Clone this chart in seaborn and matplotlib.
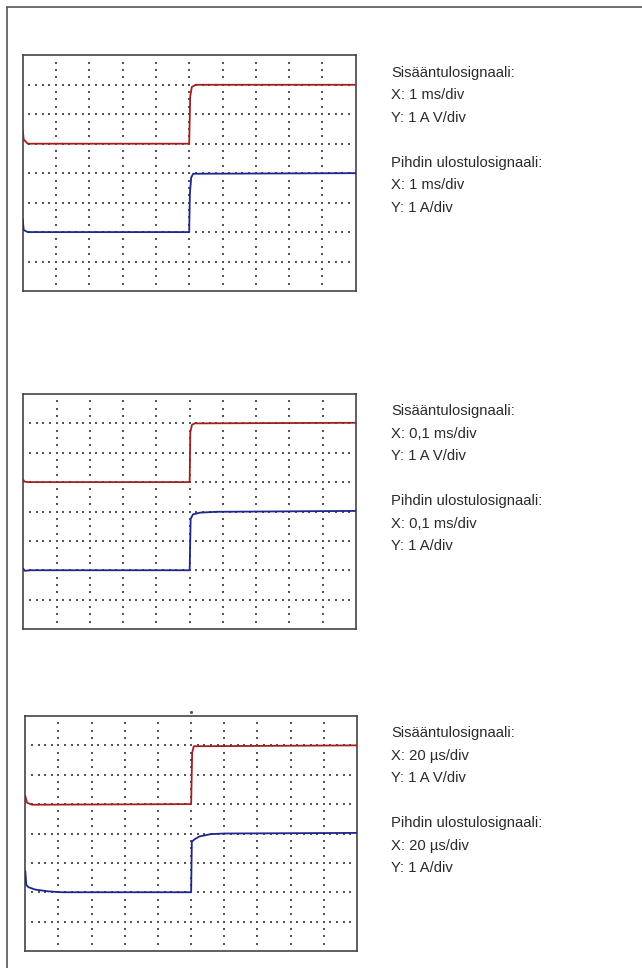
import numpy as np
import pandas as pd
import matplotlib
matplotlib.use("Agg")
import matplotlib.pyplot as plt
from matplotlib.lines import Line2D
import seaborn as sns

# ---------------- data (time in divisions, level in divisions) ----------------
p1_red_t = [0.0, 0.03, 0.15, 5.0, 5.03, 5.08, 5.2, 10.0]
p1_red_v = [5.48, 5.14, 5.0, 5.0, 6.6, 6.93, 7.0, 7.0]
p1_blue_t = [0.0, 0.03, 0.15, 5.0, 5.02, 5.06, 5.12, 10.0]
p1_blue_v = [2.44, 2.07, 2.0, 2.0, 3.3, 3.85, 3.98, 4.0]

p2_red_t = [0.0, 0.03, 0.15, 5.0, 5.02, 5.07, 5.15, 10.0]
p2_red_v = [5.08, 5.02, 5.0, 5.0, 6.7, 6.95, 7.0, 7.02]
p2_blue_t = [0.0, 0.05, 0.2, 5.0, 5.03, 5.1, 5.3, 5.8, 10.0]
p2_blue_v = [2.05, 1.98, 2.0, 2.0, 3.75, 3.9, 3.96, 3.99, 4.02]

p3_red_t = [0.0, 0.05, 0.2, 5.0, 5.03, 5.08, 10.0]
p3_red_v = [5.28, 5.05, 4.98, 5.0, 6.75, 6.97, 7.0]
p3_blue_t = [0.0, 0.03, 0.1, 0.3, 0.7, 1.1, 5.0, 5.02, 5.1, 5.25, 5.6, 6.0, 10.0]
p3_blue_v = [2.72, 2.25, 2.17, 2.09, 2.03, 2.0, 2.0, 3.72, 3.8, 3.9, 3.98, 4.0, 4.02]

in_label = "Sisääntulosignaali:"
out_label = "Pihdin ulostulosignaali:"
x_scales = ["1 ms/div", "0,1 ms/div", "20 µs/div"]
y_in = "1 A V/div"
y_out = "1 A/div"

panels = [
    (p1_red_t, p1_red_v, p1_blue_t, p1_blue_v),
    (p2_red_t, p2_red_v, p2_blue_t, p2_blue_v),
    (p3_red_t, p3_red_v, p3_blue_t, p3_blue_v),
]

# ---------------- layout (pixels) ----------------
W, H = 642, 968
boxes = [  # left, top, right, bottom
    (22.7, 55.3, 355.7, 291.0),
    (23.3, 394.0, 356.0, 629.0),
    (25.3, 716.0, 357.0, 951.0),
]

sns.set_theme(style="white")
plt.rcParams['font.family'] = ['Liberation Sans', 'DejaVu Sans']

fig = plt.figure(figsize=(W / 100, H / 100), dpi=100)
fig.patch.set_facecolor("white")

# outer frame (cropped on right and bottom)
fig.add_artist(Line2D([7.3 / W, 7.3 / W], [-0.01, 1 - 6.5 / H],
                      transform=fig.transFigure, color="#555555", lw=1.2))
fig.add_artist(Line2D([7.3 / W, 1.01], [1 - 6.5 / H, 1 - 6.5 / H],
                      transform=fig.transFigure, color="#555555", lw=1.2))

red = "#a31f1f"
blue = "#1c2590"
gridc = "#555555"

# grid dot positions (oscilloscope graticule)
hx = np.arange(0.2, 10.0, 0.2)
hy = np.arange(1, 8)
vx = np.arange(1, 10)
vy = np.arange(0.25, 8.0, 0.25)
gx = np.concatenate([np.tile(hx, len(hy)), np.repeat(vx, len(vy))])
gy = np.concatenate([np.repeat(hy, len(hx)), np.tile(vy, len(vx))])

for i, ((rt, rv, bt, bv), (l, t, r, b)) in enumerate(zip(panels, boxes)):
    ax = fig.add_axes([l / W, 1 - b / H, (r - l) / W, (b - t) / H])
    ax.scatter(gx, gy, s=1.1, marker="s", color=gridc, linewidths=0, zorder=1)
    df = pd.concat([
        pd.DataFrame({"t": rt, "v": rv, "s": "in"}),
        pd.DataFrame({"t": bt, "v": bv, "s": "out"}),
    ])
    sns.lineplot(data=df, x="t", y="v", hue="s", palette={"in": red, "out": blue},
                 estimator=None, sort=False, lw=1.3, legend=False, ax=ax, zorder=3)
    ax.set_xlim(0, 10)
    ax.set_ylim(0, 8)
    ax.set_xticks([])
    ax.set_yticks([])
    ax.set_xlabel("")
    ax.set_ylabel("")
    for sp in ax.spines.values():
        sp.set_visible(True)
        sp.set_color("#444444")
        sp.set_linewidth(1.2)
    if i == 2:
        ax.plot([5], [8.12], marker="s", ms=1.1, color=gridc, clip_on=False,
                linestyle="none")

    # text block
    lines = [in_label, "X: " + x_scales[i], "Y: " + y_in,
             out_label, "X: " + x_scales[i], "Y: " + y_out]
    offs = [21.4, 44.0, 66.4, 111.4, 134.0, 156.4]
    for txt, o in zip(lines, offs):
        fig.text(391 / W, 1 - (t + o) / H, txt, fontsize=10.6, color="#2a2a2a",
                 ha="left", va="baseline")

fig.savefig("out.png", dpi=100, facecolor="white")
